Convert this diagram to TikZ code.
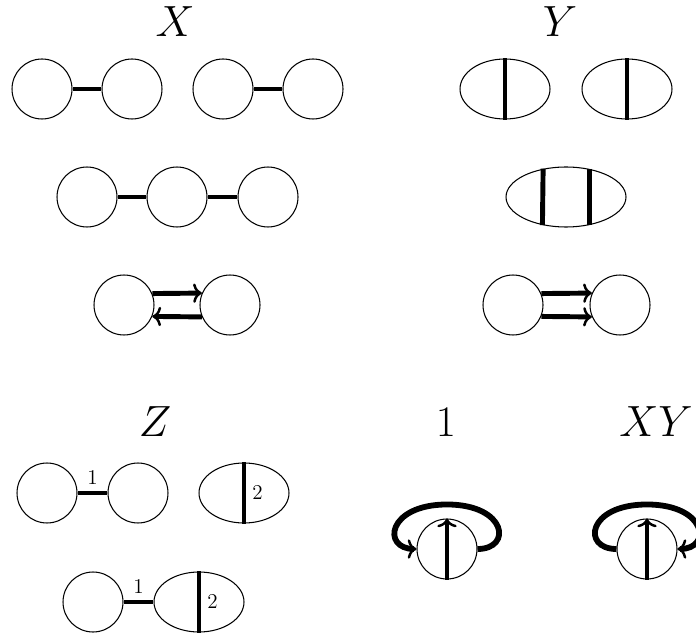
\documentclass[tikz,border=0pt]{standalone}
\usetikzlibrary{shapes.geometric,arrows.meta,positioning}

\tikzset{
  blob/.style={circle, draw, line width=0.6pt, minimum size=1.2cm, inner sep=0pt},
  oval/.style={ellipse, draw, line width=0.6pt, minimum width=1.8cm, minimum height=1.2cm, inner sep=0pt},
  longoval/.style={oval, minimum width=2.4cm},
  tip/.style={-{Computer Modern Rightarrow[length=5pt,width=11pt,line width=1.4pt]}},
  bond/.style={line width=2.8pt},
  flow/.style={line width=2.8pt, tip},
  spin/.style={line width=2.4pt, tip},
  loopback/.style={line width=3.3pt, tip},
  head/.style={font=\Huge},
  tag/.style={font=\large}
}

\begin{document}
\begin{tikzpicture}[x=0.02cm, y=-0.02cm]
  \useasboundingbox (0,0) rectangle (696,638);

  \node[head] (labX) at (175,22) {$X$};
  \node[head] (labY) at (560,22) {$Y$};
  \node[head] (labZ) at (155,422) {$Z$};
  \node[head] (labone) at (446,422) {$1$};
  \node[head] (labXY) at (656,422) {$XY$};

  \node[blob] (xa) at (42,89) {};
  \node[blob] (xb) at (132,89) {};
  \node[blob] (xc) at (223,89) {};
  \node[blob] (xd) at (313,89) {};
  \draw[bond] (xa) -- (xb);
  \draw[bond] (xc) -- (xd);

  \node[blob] (xe) at (87,197) {};
  \node[blob] (xf) at (177,197) {};
  \node[blob] (xg) at (268,197) {};
  \draw[bond] (xe) -- (xf);
  \draw[bond] (xf) -- (xg);

  \node[blob] (xh) at (124,305) {};
  \node[blob] (xi) at (230,305) {};
  \draw[flow] (xh.22.5) -- (xi.157.5);
  \draw[flow] (xi.-157.5) -- (xh.-22.5);

  \node[oval] (ya) at (505,89) {};
  \node[oval] (yb) at (627,89) {};
  \draw[bond] (ya.north) -- (ya.south);
  \draw[bond] (yb.north) -- (yb.south);

  \node[longoval] (yc) at (566,197) {};
  \draw[bond] (yc.129.7) -- (yc.230.3);
  \draw[bond] (yc.50.3) -- (yc.-50.3);

  \node[blob] (yd) at (513,305) {};
  \node[blob] (ye) at (620,305) {};
  \draw[flow] (yd.22.5) -- (ye.157.5);
  \draw[flow] (yd.-22.5) -- (ye.-157.5);

  \node[blob] (za) at (47,493) {};
  \node[blob] (zb) at (138,493) {};
  \draw[bond] (za) -- (zb) node[midway, above, tag] {$1$};
  \node[oval] (zc) at (244,493) {};
  \draw[bond] (zc.north) -- (zc.south) node[midway, right, tag] {$2$};

  \node[blob] (zd) at (93,602) {};
  \node[oval] (ze) at (199,602) {};
  \draw[bond] (zd) -- (ze) node[midway, above, tag] {$1$};
  \draw[bond] (ze.north) -- (ze.south) node[midway, right, tag] {$2$};

  \node[blob] (sa) at (447,549) {};
  \coordinate[above=0.28cm of sa] (sat);
  \draw[spin] (sa.south) -- (sa.north);
  \draw[loopback] (sa.east) .. controls +(35,0) and +(60,0) .. (sat)
    .. controls +(-60,0) and +(-35,0) .. (sa.west);

  \node[blob] (sb) at (647,549) {};
  \coordinate[above=0.28cm of sb] (sbt);
  \draw[spin] (sb.south) -- (sb.north);
  \draw[loopback] (sb.west) .. controls +(-35,0) and +(-60,0) .. (sbt)
    .. controls +(60,0) and +(35,0) .. (sb.east);
\end{tikzpicture}
\end{document}
